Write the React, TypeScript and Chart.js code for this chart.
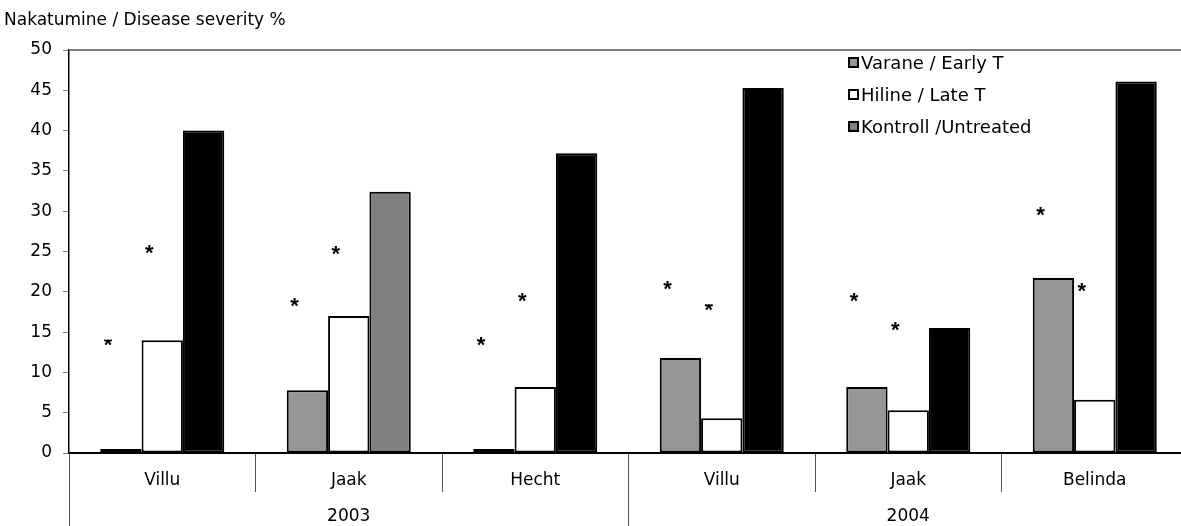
import React, { useEffect, useRef } from 'react';
import { Chart, registerables } from 'chart.js';

Chart.register(...registerables);

// ---- data ----
const varieties = ['Villu', 'Jaak', 'Hecht', 'Villu', 'Jaak', 'Belinda'];
const years = ['2003', '2004'];
const seriesNames = ['Varane / Early T', 'Hiline / Late T', 'Kontroll /Untreated'];
const earlyT = [0.5, 7.8, 0.5, 11.8, 8.2, 21.7];
const lateT = [14.0, 17.0, 8.2, 4.3, 5.3, 6.6];
const untreated = [40.0, 32.4, 37.2, 45.3, 15.5, 46.1];
const yMin = 0;
const yMax = 50;
const yStep = 5;
const yTitle = 'Nakatumine / Disease severity %';
// significance markers (category index, series index, value)
const starCategory = [0, 0, 1, 1, 2, 2, 3, 3, 4, 4, 5, 5];
const starSeries = [0, 1, 0, 1, 0, 1, 0, 1, 0, 1, 0, 1];
const starValue = [13.6, 25.1, 18.5, 24.9, 13.6, 19.1, 20.6, 18.0, 19.1, 15.5, 29.8, 20.3];
const starHalf = [true, false, false, false, false, false, false, true, false, false, false, false];

const FONT = 'DejaVu Sans';

const topBorder = {
  id: 'topBorder',
  afterDraw(chart: any) {
    const { ctx, chartArea } = chart;
    ctx.save();
    ctx.strokeStyle = '#808080';
    ctx.lineWidth = 2;
    ctx.beginPath();
    ctx.moveTo(chartArea.left, chartArea.top);
    ctx.lineTo(chartArea.right, chartArea.top);
    ctx.stroke();
    ctx.restore();
  },
};

const stars = {
  id: 'stars',
  afterDatasetsDraw(chart: any) {
    const { ctx } = chart;
    const yScale = chart.scales.y;
    ctx.save();
    ctx.fillStyle = '#000';
    ctx.font = 'bold 22px "Liberation Sans"';
    ctx.textAlign = 'center';
    ctx.textBaseline = 'alphabetic';
    starValue.forEach((v, i) => {
      const bar = chart.getDatasetMeta(starSeries[i]).data[starCategory[i]];
      const x = bar.x - 13;
      const y = yScale.getPixelForValue(v);
      ctx.save();
      if (starHalf[i]) {
        ctx.beginPath();
        ctx.rect(x - 10, y - 4, 20, 20);
        ctx.clip();
      }
      ctx.fillText('*', x, y + 9);
      ctx.restore();
    });
    ctx.restore();
  },
};

const legendBox = {
  id: 'legendBox',
  afterDraw(chart: any) {
    const { ctx, chartArea } = chart;
    ctx.save();
    ctx.font = `18px "${FONT}"`;
    ctx.textBaseline = 'middle';
    ctx.textAlign = 'left';
    chart.data.datasets.forEach((ds: any, i: number) => {
      const x = chartArea.left + 780;
      const y = chartArea.top + 13 + i * 32;
      ctx.fillStyle = ds.legendColor;
      ctx.fillRect(x, y - 5, 9, 9);
      ctx.strokeStyle = '#000';
      ctx.lineWidth = 2;
      ctx.strokeRect(x, y - 5, 9, 9);
      ctx.fillStyle = '#000';
      ctx.fillText(ds.label, x + 12, y + 1);
    });
    ctx.restore();
  },
};

export default function App() {
  const ref = useRef<HTMLCanvasElement>(null);

  useEffect(() => {
    const canvas = ref.current as HTMLCanvasElement;
    const common = { categoryPercentage: 0.665, barPercentage: 1.0, borderWidth: 2, borderColor: '#000', borderSkipped: false };
    const chart = new Chart(canvas, {
      type: 'bar',
      data: {
        labels: varieties,
        datasets: [
          { ...common, label: seriesNames[0], data: earlyT, backgroundColor: '#969696', legendColor: '#969696' } as any,
          { ...common, label: seriesNames[1], data: lateT, backgroundColor: '#ffffff', legendColor: '#ffffff' } as any,
          {
            ...common,
            label: seriesNames[2],
            data: untreated,
            backgroundColor: untreated.map((_, i) => (i === 1 ? '#808080' : '#000000')),
            legendColor: '#808080',
          } as any,
        ],
      },
      options: {
        responsive: false,
        animation: false,
        devicePixelRatio: 1,
        layout: { padding: { left: 4, right: 0, top: 0, bottom: 0 } },
        plugins: {
          legend: { display: false },
          tooltip: { enabled: false },
          title: {
            display: true,
            text: yTitle,
            align: 'start',
            color: '#000',
            font: { family: FONT, size: 17, weight: 'normal' },
            padding: { top: 10, bottom: 19.6 },
          },
        },
        scales: {
          x: {
            type: 'category',
            position: 'bottom',
            weight: 1,
            offset: true,
            grid: { offset: true, drawOnChartArea: false, drawTicks: true, tickLength: 39, color: '#555', lineWidth: 1 },
            border: { display: true, color: '#000', width: 2 },
            ticks: { color: '#000', font: { family: FONT, size: 17 }, padding: -22, maxRotation: 0, autoSkip: false },
            afterFit: (s: any) => {
              s.height = 39;
            },
          },
          x2: {
            type: 'category',
            position: 'bottom',
            weight: 2,
            labels: years,
            offset: true,
            grid: { offset: true, drawOnChartArea: false, drawTicks: true, tickLength: 34, color: '#555', lineWidth: 1 },
            border: { display: false },
            ticks: { color: '#000', font: { family: FONT, size: 17 }, padding: -20, maxRotation: 0, autoSkip: false },
            afterFit: (s: any) => {
              s.height = 34;
            },
          },
          y: {
            min: yMin,
            max: yMax,
            ticks: { stepSize: yStep, color: '#000', font: { family: FONT, size: 17 }, padding: 11 },
            grid: { drawOnChartArea: false, drawTicks: true, tickLength: 6, color: '#808080' },
            border: { display: true, color: '#000', width: 1.5 },
            afterFit: (s: any) => {
              s.width = 65;
            },
          },
        },
      } as any,
      plugins: [topBorder, stars, legendBox],
    });
    return () => chart.destroy();
  }, []);

  return (
    <div style={{ position: 'fixed', left: 0, top: 0, width: 1181, height: 526, overflow: 'hidden', background: '#fff' }}>
      <canvas ref={ref} width={1188} height={526} style={{ display: 'block', width: 1188, height: 526 }} />
    </div>
  );
}
